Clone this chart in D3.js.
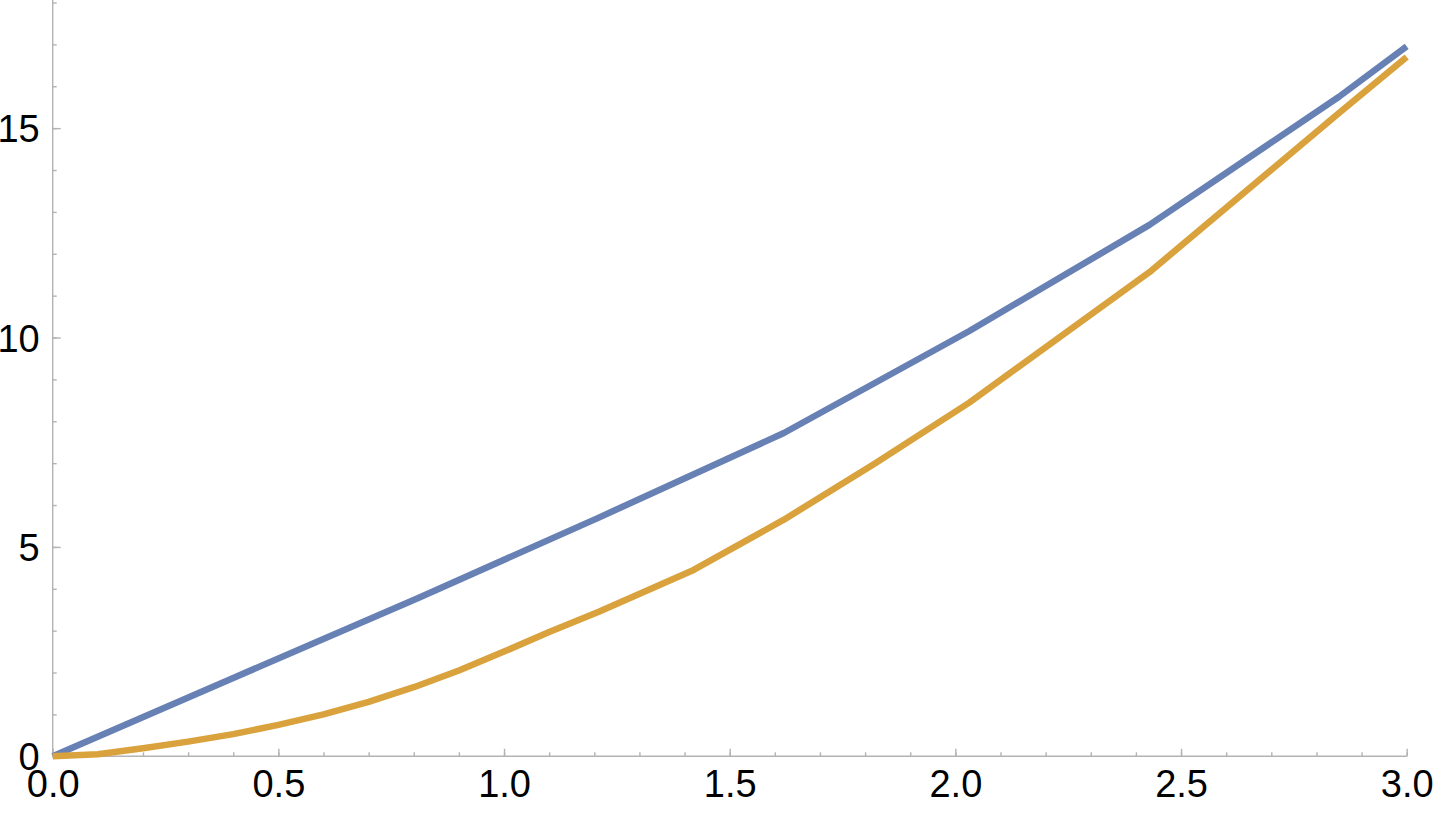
<!DOCTYPE html>
<html>
<head>
<meta charset="utf-8">
<script src="https://cdnjs.cloudflare.com/ajax/libs/d3/7.8.5/d3.min.js"></script>
<style>
    html, body { margin: 0; padding: 0; background: #fff; }
    svg { display: block; }
</style>
</head>
<body>
<svg id="chart" width="1448" height="828"></svg>
<script>
// values
let blueX = [0, 0.40, 0.81, 1.21, 1.62, 2.03, 2.43, 2.85, 3.0];
let blueY = [0, 1.87, 3.78, 5.70, 7.72, 10.15, 12.69, 15.75, 16.95];

let orangeX = [0, 0.1, 0.2, 0.3, 0.4, 0.5, 0.6, 0.7, 0.8, 0.9, 1.0, 1.1, 1.21, 1.42, 1.62, 1.82, 2.03, 2.43, 2.85, 3.0];
let orangeY = [0, 0.05, 0.19, 0.35, 0.53, 0.75, 1.0, 1.3, 1.65, 2.05, 2.5, 2.97, 3.45, 4.45, 5.65, 6.98, 8.44, 11.56, 15.36, 16.7];

let xMajor = [0, 0.5, 1.0, 1.5, 2.0, 2.5, 3.0];
let yMajor = [0, 5, 10, 15];

let svg = d3.select("#chart");

let x = d3.scaleLinear().domain([0, 3]).range([52.7, 1406.7]);
let y = d3.scaleLinear().domain([0, 18.06]).range([756.3, 0]);

let axisColor = "#b3b3b3";

let xMinor = d3.range(0, 31).map(function (i) { return i / 10; });
let yMinor = d3.range(0, 19).filter(function (d) { return y(d) >= 0; });

// minor ticks go in their own groups so the major call doesn't wipe them
svg.append("g")
    .attr("class", "minor")
    .attr("transform", "translate(0," + y(0) + ")")
    .call(d3.axisBottom(x).tickValues(xMinor).tickSize(-4).tickSizeOuter(0).tickFormat(""));

svg.append("g")
    .attr("class", "minor")
    .attr("transform", "translate(" + x(0) + ",0)")
    .call(d3.axisLeft(y).tickValues(yMinor).tickSize(-4).tickSizeOuter(0).tickFormat(""));

let gx = svg.append("g").attr("transform", "translate(0," + y(0) + ")");
gx.call(d3.axisBottom(x).tickValues(xMajor).tickSize(-7.5).tickSizeOuter(0)
    .tickFormat(d3.format(".1f")));

let gy = svg.append("g").attr("transform", "translate(" + x(0) + ",0)");
gy.call(d3.axisLeft(y).tickValues(yMajor).tickSize(-8).tickSizeOuter(0)
    .tickFormat(d3.format("d")));

svg.selectAll(".minor .domain").remove();
svg.selectAll(".domain").attr("stroke", axisColor).attr("stroke-width", 1.4);
svg.selectAll(".tick line").attr("stroke", axisColor).attr("stroke-width", 1.4);
svg.selectAll(".tick text")
    .attr("fill", "#000")
    .style("font-family", "'Liberation Sans', Arial, sans-serif")
    .style("font-size", "38px");

// y axis line runs up to the top edge
gy.select(".domain").attr("d", "M0," + y(0) + "V0");
gx.select(".domain").attr("d", "M" + x(0) + ",0H" + x(3));

gx.selectAll(".tick text").attr("y", 14).attr("dy", "0.71em");
gy.selectAll(".tick text").attr("x", -13).attr("dy", "0.36em");

let line = d3.line()
    .x(function (d) { return x(d[0]); })
    .y(function (d) { return y(d[1]); });

let blue = blueX.map(function (v, i) { return [v, blueY[i]]; });
let orange = orangeX.map(function (v, i) { return [v, orangeY[i]]; });

svg.append("path")
    .datum(blue)
    .attr("d", line)
    .attr("fill", "none")
    .attr("stroke", "#6881b5")
    .attr("stroke-width", 6.5)
    .attr("stroke-linejoin", "round");

svg.append("path")
    .datum(orange)
    .attr("d", line)
    .attr("fill", "none")
    .attr("stroke", "#d9a23c")
    .attr("stroke-width", 6.5)
    .attr("stroke-linejoin", "round");
</script>
</body>
</html>
